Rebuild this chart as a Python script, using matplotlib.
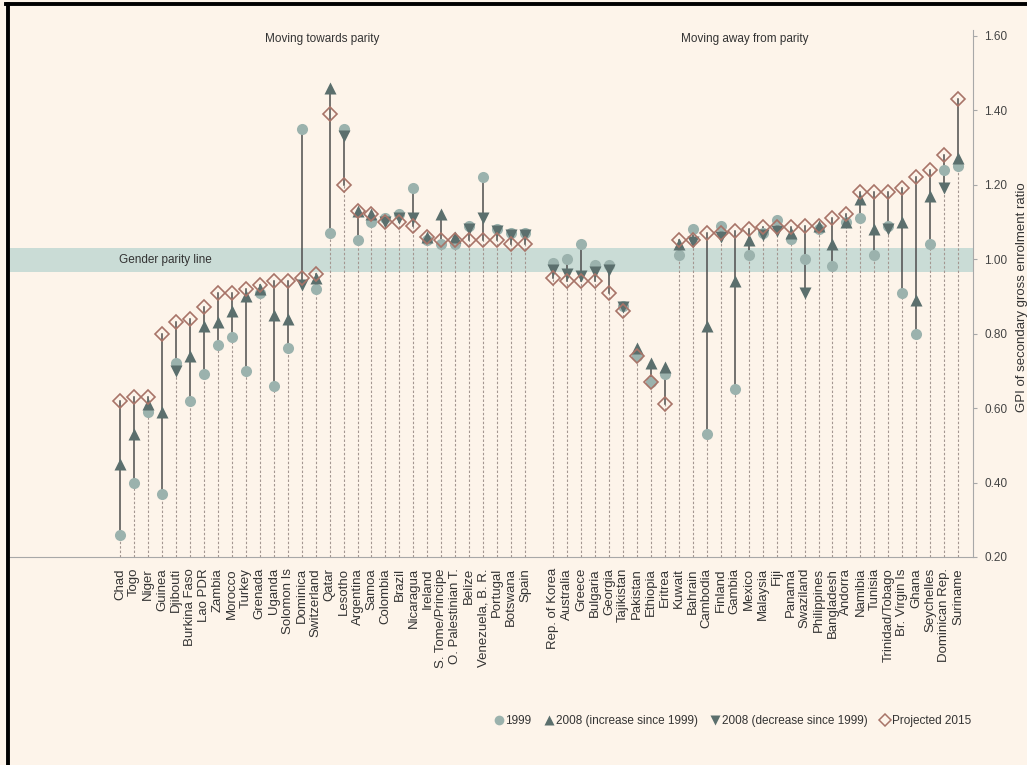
#!/usr/bin/env python3
"""
Gender parity index of secondary gross enrolment ratio:
1999, 2008 and projected 2015 values by country.
"""

import matplotlib
matplotlib.use("Agg")
import matplotlib.pyplot as plt
from matplotlib.lines import Line2D

# Countries moving towards parity
countries_towards = [
    "Chad", "Togo", "Niger", "Guinea", "Djibouti", "Burkina Faso", "Lao PDR",
    "Zambia", "Morocco", "Turkey", "Grenada", "Uganda", "Solomon Is", "Dominica",
    "Switzerland", "Qatar", "Lesotho", "Argentina", "Samoa", "Colombia", "Brazil",
    "Nicaragua", "Ireland", "S. Tome/Principe", "O. Palestinian T.", "Belize",
    "Venezuela, B. R.", "Portugal", "Botswana", "Spain",
]
gpi_1999_towards = [
    0.26, 0.40, 0.59, 0.37, 0.72, 0.62, 0.69, 0.77, 0.79, 0.70, 0.91, 0.66, 0.76, 1.35,
    0.92, 1.07, 1.35, 1.05, 1.10, 1.11, 1.12, 1.19, 1.05, 1.04, 1.04, 1.09, 1.22, 1.08,
    1.07, 1.07,
]
gpi_2008_towards = [
    0.45, 0.53, 0.61, 0.59, 0.70, 0.74, 0.82, 0.83, 0.86, 0.90, 0.92, 0.85, 0.84, 0.93,
    0.95, 1.46, 1.33, 1.13, 1.12, 1.10, 1.11, 1.11, 1.06, 1.12, 1.06, 1.08, 1.11, 1.075,
    1.065, 1.065,
]
gpi_2015_towards = [
    0.62, 0.63, 0.63, 0.80, 0.83, 0.84, 0.87, 0.91, 0.91, 0.92, 0.93, 0.94, 0.94, 0.95,
    0.96, 1.39, 1.20, 1.13, 1.12, 1.10, 1.10, 1.09, 1.06, 1.05, 1.05, 1.05, 1.05, 1.05,
    1.04, 1.04,
]

# Countries moving away from parity
countries_away = [
    "Rep. of Korea", "Australia", "Greece", "Bulgaria", "Georgia", "Tajikistan",
    "Pakistan", "Ethiopia", "Eritrea", "Kuwait", "Bahrain", "Cambodia", "Finland",
    "Gambia", "Mexico", "Malaysia", "Fiji", "Panama", "Swaziland", "Philippines",
    "Bangladesh", "Andorra", "Namibia", "Tunisia", "Trinidad/Tobago", "Br. Virgin Is",
    "Ghana", "Seychelles", "Dominican Rep.", "Suriname",
]
gpi_1999_away = [
    0.99, 1.00, 1.04, 0.985, 0.985, 0.875, 0.74, 0.67, 0.69, 1.01, 1.08, 0.53, 1.09,
    0.65, 1.01, 1.07, 1.105, 1.055, 1.00, 1.08, 0.98, 1.10, 1.11, 1.01, 1.09, 0.91,
    0.80, 1.04, 1.24, 1.25,
]
gpi_2008_away = [
    0.97, 0.96, 0.955, 0.965, 0.97, 0.87, 0.76, 0.72, 0.71, 1.04, 1.045, 0.82, 1.06,
    0.94, 1.05, 1.065, 1.075, 1.07, 0.91, 1.09, 1.04, 1.10, 1.16, 1.08, 1.08, 1.10,
    0.89, 1.17, 1.19, 1.27,
]
gpi_2015_away = [
    0.95, 0.94, 0.94, 0.94, 0.91, 0.86, 0.74, 0.67, 0.61, 1.05, 1.05, 1.07, 1.07,
    1.075, 1.08, 1.085, 1.085, 1.085, 1.09, 1.09, 1.11, 1.12, 1.18, 1.18, 1.18, 1.19,
    1.22, 1.24, 1.28, 1.43,
]

y_ticks = [0.20, 0.40, 0.60, 0.80, 1.00, 1.20, 1.40, 1.60]

# Colours
BG = "#fdf4ea"
C_1999 = "#9bb2ad"
C_2008 = "#5b6f6d"
C_2015 = "#a87468"
C_STEM = "#4d4d4d"
C_DASH = "#a39690"
C_BAND = "#cadcd6"
C_AXIS = "#a8a8a8"

FONT = ["Liberation Sans", "DejaVu Sans"]


def plot_gpi():
    countries = countries_towards + countries_away
    v99 = gpi_1999_towards + gpi_1999_away
    v08 = gpi_2008_towards + gpi_2008_away
    v15 = gpi_2015_towards + gpi_2015_away

    # one empty slot between the two groups
    xs = list(range(len(countries_towards)))
    xs += [len(countries_towards) + 1 + i for i in range(len(countries_away))]

    fig = plt.figure(figsize=(10.27, 7.65), dpi=100, facecolor=BG)
    ax = fig.add_axes([9 / 1027, 0.2719, 964 / 1027, 0.9608 - 0.2719])
    ax.set_facecolor(BG)
    ymin, ymax = 0.20, 1.615
    ax.set_xlim(-7.95, 61.06)
    ax.set_ylim(ymin, ymax)

    # gender parity band
    ax.axhspan(0.965, 1.03, color=C_BAND, zorder=0.5, lw=0)
    ax.text(-0.05, 0.998, "Gender parity line", family=FONT, fontsize=8.5,
            color="#333333", ha="left", va="center", zorder=1)

    for x, a, b, c in zip(xs, v99, v08, v15):
        lo = min(a, b, c)
        hi = max(a, b, c)
        ax.plot([x, x], [ymin, lo], color=C_DASH, lw=0.8, dashes=(2.2, 1.8), zorder=1)
        ax.plot([x, x], [lo, hi], color=C_STEM, lw=1.1, zorder=2)
        ax.plot(x, a, "o", ms=8, color=C_1999, mec="none", zorder=3)
        marker = "^" if b >= a else "v"
        ax.plot(x, b, marker, ms=8, color=C_2008, mec="none", zorder=4)
        ax.plot(x, c, "D", ms=7.5, mfc="none", mec=C_2015, mew=1.2, zorder=5)

    # group headings
    mid_left = (xs[0] + xs[len(countries_towards) - 1]) / 2
    mid_right = (xs[len(countries_towards)] + xs[-1]) / 2
    ax.text(mid_left, 1.59, "Moving towards parity", family=FONT, fontsize=8.5,
            color="#333333", ha="center", va="center")
    ax.text(mid_right - 0.8, 1.59, "Moving away from parity", family=FONT, fontsize=8.5,
            color="#333333", ha="center", va="center")

    # axes styling
    for side in ["left", "top"]:
        ax.spines[side].set_visible(False)
    ax.spines["bottom"].set_color(C_AXIS)
    ax.spines["right"].set_color(C_AXIS)
    ax.spines["right"].set_bounds(ymin, ymax)

    ax.yaxis.tick_right()
    ax.set_yticks(y_ticks)
    ax.set_yticklabels([f"{t:.2f}" for t in y_ticks], family=FONT, fontsize=8.5,
                       color="#444444")
    ax.tick_params(axis="y", direction="out", length=3, width=0.8, color=C_AXIS, pad=5)

    ax.set_xticks(xs)
    ax.set_xticklabels(countries, rotation=90, family=FONT, fontsize=9.5,
                       color="#333333", va="top", ha="center")
    ax.tick_params(axis="x", length=0, pad=8)

    fig.text(1022 / 1027, 1 - 297 / 765, "GPI of secondary gross enrolment ratio",
             family=FONT, fontsize=9.5, color="#333333", rotation=90,
             ha="center", va="center")

    # legend
    handles = [
        Line2D([], [], ls="none", marker="o", ms=7, color=C_1999, mec="none"),
        Line2D([], [], ls="none", marker="^", ms=7, color=C_2008, mec="none"),
        Line2D([], [], ls="none", marker="v", ms=7, color=C_2008, mec="none"),
        Line2D([], [], ls="none", marker="D", ms=6.5, mfc="none", mec=C_2015, mew=1.1),
    ]
    labels = ["1999", "2008 (increase since 1999)", "2008 (decrease since 1999)",
              "Projected 2015"]
    fig.legend(handles, labels, loc="center left", ncol=4, frameon=False,
               bbox_to_anchor=(484 / 1027, 1 - 721 / 765), handlelength=0.7,
               handletextpad=0.2, columnspacing=1.15,
               prop={"family": FONT, "size": 8.5}, labelcolor="#333333")

    # black frame on the left and top
    fig.add_artist(Line2D([7.5 / 1027, 7.5 / 1027], [0, 1 - 4 / 765],
                          transform=fig.transFigure, color="black", lw=2.8))
    fig.add_artist(Line2D([6 / 1027, 1], [1 - 4 / 765, 1 - 4 / 765],
                          transform=fig.transFigure, color="black", lw=2.8))

    fig.savefig("out.png", dpi=100, facecolor=BG)
    plt.close(fig)
    print("saved out.png")


if __name__ == "__main__":
    plot_gpi()
